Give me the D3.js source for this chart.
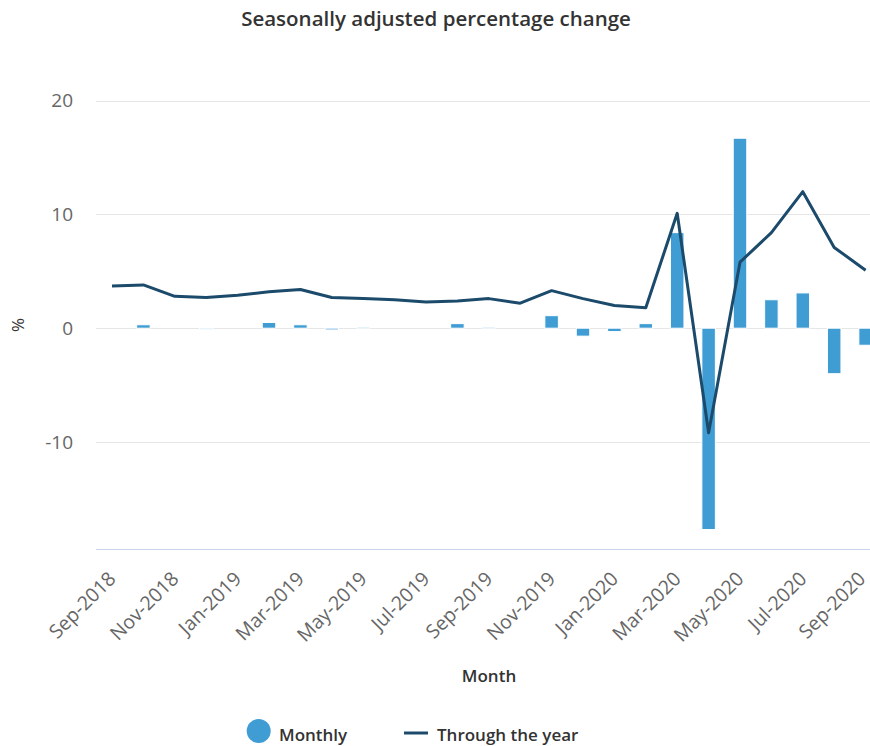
<!DOCTYPE html>
<html>
<head>
<meta charset="utf-8">
<script src="https://cdn.jsdelivr.net/npm/d3@7"></script>
<style>
  html, body { margin: 0; padding: 0; background: #fff; }
  svg { display: block; font-family: "Open Sans", "Noto Sans", sans-serif; }
</style>
</head>
<body>
<svg id="chart" width="870" height="746"></svg>
<script>
const months = ["Sep-2018","Oct-2018","Nov-2018","Dec-2018","Jan-2019","Feb-2019","Mar-2019","Apr-2019","May-2019","Jun-2019","Jul-2019","Aug-2019","Sep-2019","Oct-2019","Nov-2019","Dec-2019","Jan-2020","Feb-2020","Mar-2020","Apr-2020","May-2020","Jun-2020","Jul-2020","Aug-2020","Sep-2020"];
const monthly = [0, 0.3, 0, -0.1, 0, 0.5, 0.3, -0.15, 0.1, 0, 0, 0.4, 0.1, null, 1.1, -0.7, -0.3, 0.4, 8.4, -17.7, 16.7, 2.5, 3.1, -4.0, -1.5];
const throughYear = [3.7, 3.8, 2.8, 2.7, 2.9, 3.2, 3.4, 2.7, 2.6, 2.5, 2.3, 2.4, 2.6, 2.2, 3.3, 2.6, 2.0, 1.8, 10.1, -9.2, 5.8, 8.4, 12.0, 7.1, 5.1];
const yTicks = [-10, 0, 10, 20];
const xTickLabels = months.filter((d, i) => i % 2 === 0);
const titleText = "Seasonally adjusted percentage change";
const yAxisTitle = "%";
const xAxisTitle = "Month";
const seriesNames = ["Monthly", "Through the year"];

const svg = d3.select("#chart");
const barColor = "#3f9dd4";
const lineColor = "#1b4a6b";

const x = d3.scaleBand().domain(months).range([96.3, 881.3]).paddingInner(0.57).paddingOuter(0.285);
const y = d3.scaleLinear().domain([-19.44, 20]).range([549.3, 100.7]);
const cx = d => x(d) + x.bandwidth() / 2;

// title
svg.append("text").attr("x", 436).attr("y", 26).attr("text-anchor", "middle")
  .attr("font-size", 20.5).attr("font-weight", 600).attr("fill", "#333").text(titleText);

// gridlines
svg.append("g").selectAll("line").data(yTicks).join("line")
  .attr("x1", 96).attr("x2", 870).attr("y1", d => Math.round(y(d)) + 0.5).attr("y2", d => Math.round(y(d)) + 0.5)
  .attr("stroke", "#e6e6e6").attr("stroke-width", 1);

// y axis labels
const yAxis = d3.axisLeft(y).tickValues(yTicks).tickSize(0).tickPadding(0).tickFormat(d => String(d));
const gy = svg.append("g").attr("transform", "translate(73,0)").call(yAxis);
gy.select(".domain").remove();
gy.selectAll("text").attr("font-size", 19).attr("fill", "#666").attr("font-family", "Open Sans, Noto Sans, sans-serif");

// bottom axis line
svg.append("line").attr("x1", 96).attr("x2", 870).attr("y1", 549.5).attr("y2", 549.5).attr("stroke", "#ccd6eb");

// x axis labels
const xAxis = d3.axisBottom(x).tickValues(xTickLabels).tickSize(0).tickPadding(0);
const gx = svg.append("g").attr("transform", "translate(0,549)").call(xAxis);
gx.select(".domain").remove();
gx.selectAll("text")
  .attr("font-size", 19.5).attr("fill", "#666").attr("font-family", "Open Sans, Noto Sans, sans-serif")
  .attr("text-anchor", "end").attr("dy", null).attr("y", 0)
  .attr("transform", (d, i, n) => i === n.length - 1 ? "translate(1,31) rotate(-45)" : "translate(5,31) rotate(-45)");

// axis titles
svg.append("text").attr("transform", "translate(24,325) rotate(-90)").attr("text-anchor", "middle")
  .attr("font-size", 17).attr("fill", "#333").text(yAxisTitle);
svg.append("text").attr("x", 489).attr("y", 682).attr("text-anchor", "middle")
  .attr("font-size", 17).attr("font-weight", 600).attr("fill", "#333").text(xAxisTitle);

// bars
const barData = months.map((m, i) => ({m, v: monthly[i]})).filter(d => d.v !== null);
svg.append("g").selectAll("rect").data(barData).join("rect")
  .attr("x", d => x(d.m))
  .attr("width", x.bandwidth())
  .attr("y", d => y(Math.max(0, d.v)))
  .attr("height", d => Math.abs(y(d.v) - y(0)))
  .attr("fill", barColor).attr("stroke", "#fff").attr("stroke-width", 1);

// line
const line = d3.line().x((d, i) => cx(months[i])).y(d => y(d));
svg.append("path").datum(throughYear).attr("d", line)
  .attr("fill", "none").attr("stroke", lineColor).attr("stroke-width", 3).attr("stroke-linejoin", "round");

// legend
const lg = svg.append("g");
lg.append("circle").attr("cx", 258.7).attr("cy", 731).attr("r", 12).attr("fill", barColor);
lg.append("text").attr("x", 279).attr("y", 741).attr("font-size", 17).attr("font-weight", 600).attr("fill", "#333").text(seriesNames[0]);
lg.append("line").attr("x1", 404).attr("x2", 428).attr("y1", 733).attr("y2", 733).attr("stroke", lineColor).attr("stroke-width", 3);
lg.append("text").attr("x", 437).attr("y", 741).attr("font-size", 17).attr("font-weight", 600).attr("fill", "#333").text(seriesNames[1]);
</script>
</body>
</html>
